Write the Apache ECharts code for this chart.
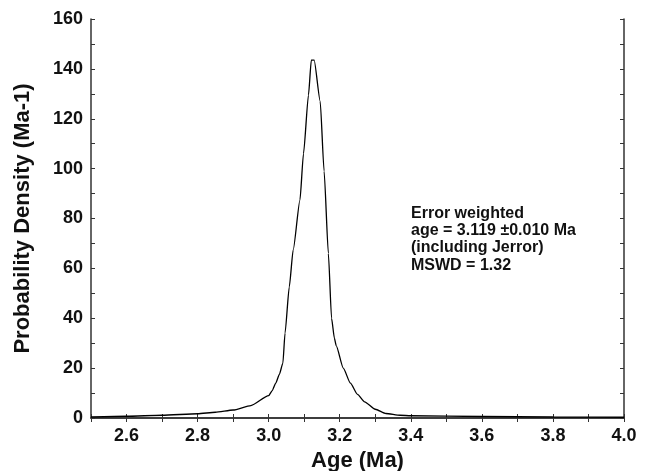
<!DOCTYPE html>
<html>
<head>
<meta charset="utf-8">
<script src="https://cdn.jsdelivr.net/npm/echarts@6/dist/echarts.min.js"></script>
<style>
html,body{margin:0;padding:0;background:#fff;}
#main{width:650px;height:471px;}
</style>
</head>
<body>
<div id="main"></div>
<script>
// probability density curve
var ages = [2.5, 2.6, 2.7, 2.8, 2.85, 2.9, 2.95, 3.0, 3.01, 3.02, 3.03, 3.04, 3.046, 3.058, 3.069, 3.088, 3.098, 3.112, 3.12, 3.128,
            3.145, 3.156, 3.168, 3.177, 3.185, 3.19, 3.21, 3.23, 3.25, 3.27, 3.3, 3.33, 3.37, 3.4, 3.6, 3.8, 4.0];
var density = [0.4, 0.7, 1.1, 1.7, 2.3, 3.2, 5.0, 9.0, 11, 14, 17.5, 22, 34, 52.6, 67.4, 87.4, 106, 129.5, 143.5, 143.5,
               127, 99, 66, 40, 32, 29, 20, 14, 9.5, 6.5, 3.5, 1.8, 1.1, 0.9, 0.6, 0.4, 0.3];
var noteLines = ['Error weighted', 'age = 3.119 \u00b10.010 Ma', '(including Jerror)', 'MSWD = 1.32'];

var font = 'Liberation Sans';
var axisCol = '#333';

var myChart = echarts.init(document.getElementById('main'));

function pts() {
	var d = [];
	for (var i = 0; i < ages.length; i++) d.push([ages[i], density[i]]);
	return d;
}

var tickStyle = { show: true, inside: true, length: 4, lineStyle: { color: axisCol, width: 1 } };

myChart.setOption({
	animation: false,
	grid: { left: 91, right: 26, top: 19, bottom: 53, containLabel: false, outerBoundsMode: 'none' },
	xAxis: [{
		type: 'value', min: 2.5, max: 4.0, interval: 0.1,
		name: 'Age (Ma)', nameLocation: 'middle', nameGap: 25,
		nameTextStyle: { fontFamily: font, fontWeight: 'bold', fontSize: 22, color: '#111' },
		axisLine: { onZero: false, lineStyle: { color: axisCol, width: 1.5 } },
		axisTick: tickStyle,
		splitLine: { show: false },
		axisLabel: {
			margin: 9, fontFamily: font, fontWeight: 'bold', fontSize: 18, color: '#111',
			formatter: function(v) {
				var k = Math.round(v * 10);
				return (k % 2 === 0) ? (k / 10).toFixed(1) : '';
			}
		}
	}, {
		type: 'value', position: 'top', min: 2.5, max: 4.0, interval: 0.1,
		axisLine: { show: true, lineStyle: { color: axisCol, width: 1.5 } },
		axisTick: tickStyle, axisLabel: { show: false }, splitLine: { show: false }
	}],
	yAxis: [{
		type: 'value', min: 0, max: 160, interval: 10,
		name: 'Probability Density (Ma-1)', nameLocation: 'middle', nameGap: 57,
		nameTextStyle: { fontFamily: font, fontWeight: 'bold', fontSize: 22, color: '#111' },
		axisLine: { show: true, lineStyle: { color: axisCol, width: 1.5 } },
		axisTick: tickStyle,
		splitLine: { show: false },
		axisLabel: {
			margin: 8, fontFamily: font, fontWeight: 'bold', fontSize: 18, color: '#111',
			formatter: function(v) { return (v % 20 === 0) ? String(v) : ''; }
		}
	}, {
		type: 'value', position: 'right', min: 0, max: 160, interval: 10,
		axisLine: { show: true, lineStyle: { color: axisCol, width: 1.5 } },
		axisTick: tickStyle, axisLabel: { show: false }, splitLine: { show: false }
	}],
	graphic: [{
		type: 'text', left: 411, top: 205,
		style: {
			text: noteLines.slice(0, 3).join('\n'),
			fontFamily: font, fontWeight: 'bold', fontSize: 16, lineHeight: 17, fill: '#111'
		}
	}, {
		type: 'text', left: 411, top: 258,
		style: { text: noteLines[3], fontFamily: font, fontWeight: 'bold', fontSize: 16, fill: '#111' }
	}],
	series: [{
		type: 'line',
		data: pts(),
		showSymbol: false,
		symbol: 'none',
		smooth: 0.2,
		smoothMonotone: 'x',
		lineStyle: { color: '#000', width: 1.3 },
		clip: true
	}]
});
</script>
</body>
</html>
